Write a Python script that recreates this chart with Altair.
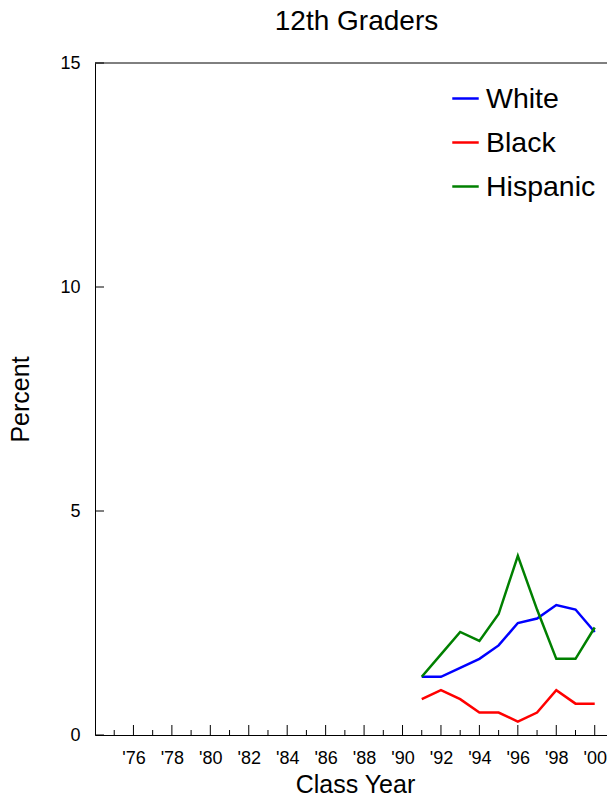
import altair as alt
import pandas as pd

# ---- data ----
years = list(range(1991, 2001))
white = [1.3, 1.3, 1.5, 1.7, 2.0, 2.5, 2.6, 2.9, 2.8, 2.3]
black = [0.8, 1.0, 0.8, 0.5, 0.5, 0.3, 0.5, 1.0, 0.7, 0.7]
hispanic = [1.3, 1.8, 2.3, 2.1, 2.7, 4.0, 2.8, 1.7, 1.7, 2.4]
groups = ["White", "Black", "Hispanic"]
colors = ["#0000FF", "#FF0000", "#008000"]
major_years = list(range(1976, 2001, 2))
minor_years = list(range(1975, 2000, 2))
y_ticks = [0, 5, 10, 15]
chart_title = ["12th Graders"]

W = 512
H = 672
FONT = "Liberation Sans"

rows = []
for g, vals in zip(groups, [white, black, hispanic]):
    for yr, v in zip(years, vals):
        rows.append({"year": yr, "pct": v, "group": g})
df = pd.DataFrame(rows)

xscale = alt.Scale(domain=[1974, 1974 + W / 19.22], nice=False, zero=False)
yscale = alt.Scale(domain=[0, 15], nice=False, zero=True)

xaxis = alt.Axis(
    values=major_years,
    labelExpr="\"'\" + substring(toString(datum.value), 2)",
    ticks=False, tickSize=0, grid=False,
    labelPadding=28, labelBaseline="alphabetic", labelFontSize=18,
    labelFont=FONT, labelColor="black", labelFlush=False, labelOverlap=False,
    title="Class Year", titleX=260, titleY=57, titleBaseline="alphabetic",
    titleAlign="center", titleFontSize=25, titleFont=FONT,
    titleFontWeight="normal", titleColor="black",
    domainColor="black", domainWidth=1,
)
yaxis = alt.Axis(
    values=y_ticks,
    ticks=False, tickSize=0, grid=False,
    labelPadding=15, labelFontSize=18, labelFont=FONT, labelColor="black",
    labelBaseline="middle",
    title="Percent", titleX=-67, titleY=H / 2, titleAngle=270,
    titleAlign="center", titleBaseline="alphabetic", titleFontSize=25,
    titleFont=FONT, titleFontWeight="normal", titleColor="black",
    domainColor="black", domainWidth=1,
)

X = alt.X("year:Q", scale=xscale, axis=xaxis)
Y = alt.Y("pct:Q", scale=yscale, axis=yaxis)

lines = alt.Chart(df).mark_line(strokeWidth=2.5).encode(
    x=X,
    y=Y,
    color=alt.Color(
        "group:N",
        scale=alt.Scale(domain=groups, range=colors),
        legend=alt.Legend(
            orient="none", legendX=356, legendY=21, title=None,
            symbolType="stroke", symbolSize=700, symbolStrokeWidth=2.5,
            labelFontSize=28.5, labelFont=FONT, labelColor="black",
            rowPadding=15, labelOffset=6, padding=0,
        ),
    ),
    order=alt.Order("year:Q"),
)

major = alt.Chart(pd.DataFrame({"year": major_years})).mark_rule(
    color="black", strokeWidth=1
).encode(x=X, y=alt.value(H), y2=alt.value(H - 10))

minor = alt.Chart(pd.DataFrame({"year": minor_years})).mark_rule(
    color="black", strokeWidth=1
).encode(x=X, y=alt.value(H), y2=alt.value(H - 5))

ytk = alt.Chart(pd.DataFrame({"pct": y_ticks})).mark_rule(
    color="black", strokeWidth=1
).encode(y=Y, x=alt.value(0), x2=alt.value(9))

top = alt.Chart(pd.DataFrame({"pct": [15]})).mark_rule(
    color="black", strokeWidth=1
).encode(y=Y, x=alt.value(0), x2=alt.value(W))

title_txt = alt.Chart(pd.DataFrame({"t": chart_title})).mark_text(
    font=FONT, fontSize=28, color="black", align="center",
    baseline="alphabetic",
).encode(text="t:N", x=alt.value(261.5), y=alt.value(-33.5))

chart = alt.layer(lines, major, minor, ytk, top, title_txt).properties(
    width=W,
    height=H,
    autosize=alt.AutoSizeParams(type="none"),
    padding={"left": 87, "top": 55, "right": 0, "bottom": 58},
).configure_view(stroke=None)

chart.save("out.html", embed_options={"renderer": "svg", "actions": False})
